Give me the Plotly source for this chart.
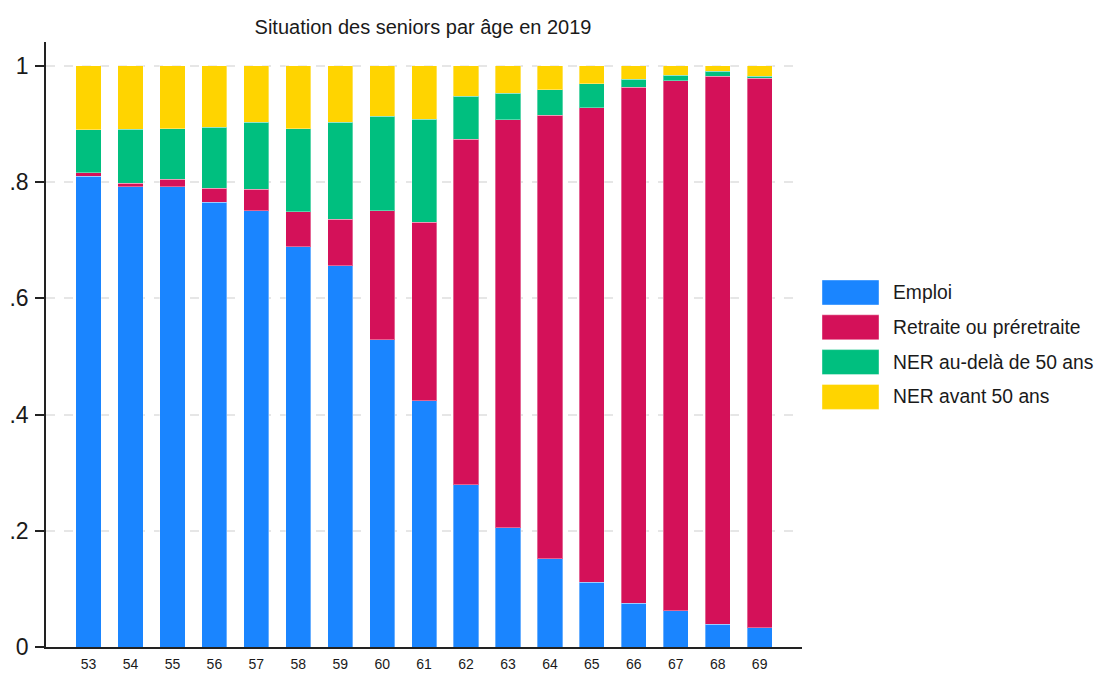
import plotly.graph_objects as go

ages = [53, 54, 55, 56, 57, 58, 59, 60, 61, 62, 63, 64, 65, 66, 67, 68, 69]

emploi = [0.810, 0.792, 0.792, 0.765, 0.751, 0.689, 0.656, 0.529, 0.424,
          0.279, 0.205, 0.152, 0.111, 0.075, 0.062, 0.039, 0.033]
retraite = [0.006, 0.006, 0.013, 0.024, 0.037, 0.060, 0.080, 0.222, 0.307,
            0.595, 0.702, 0.763, 0.817, 0.888, 0.912, 0.943, 0.946]
ner_apres50 = [0.074, 0.093, 0.087, 0.105, 0.115, 0.143, 0.167, 0.162, 0.177,
               0.074, 0.046, 0.044, 0.041, 0.014, 0.010, 0.009, 0.003]
ner_avant50 = [0.110, 0.109, 0.108, 0.106, 0.097, 0.108, 0.097, 0.087, 0.092,
               0.052, 0.047, 0.041, 0.031, 0.023, 0.016, 0.009, 0.018]

names = ["Emploi", "Retraite ou préretraite", "NER au-delà de 50 ans", "NER avant 50 ans"]
colors = ["#1a85ff", "#d41159", "#00bf7f", "#ffd400"]
series = [emploi, retraite, ner_apres50, ner_avant50]

y_ticks = [0, 0.2, 0.4, 0.6, 0.8, 1]
y_ticktext = ["0", ".2", ".4", ".6", ".8", "1"]

FONT = "Liberation Sans, Arial, sans-serif"

# page has an 8px body margin, so the figure sits 8px right/down in the window
W, H = 1095, 665
L, R, T, B = 38, 301, 34, 26
PW, PH = W - L - R, H - T - B


def px(sx):
    # screen x -> paper x
    return (sx - 8 - L) / PW


def py(sy):
    # screen y -> paper y
    return 1 - (sy - 8 - T) / PH


fig = go.Figure()
for name, col, vals in zip(names, colors, series):
    fig.add_trace(go.Bar(
        x=ages, y=vals, name=name,
        marker=dict(color=col, line=dict(color="rgba(255,255,255,0.35)", width=1)),
        width=0.6,
        showlegend=False,
    ))

# legend drawn as big swatches, like the original
for i, (name, col) in enumerate(zip(names, colors)):
    top = 280 + i * 34.8
    fig.add_shape(type="rect", xref="paper", yref="paper",
                  x0=px(822), x1=px(879), y0=py(top + 25), y1=py(top),
                  fillcolor=col, line=dict(color="rgba(255,255,255,0.4)", width=1))
    fig.add_annotation(xref="paper", yref="paper",
                       x=px(891), y=py(top + 12.5),
                       text=name, showarrow=False, xanchor="left", yanchor="middle",
                       font=dict(size=19.3, color="#1a1a1a", family=FONT))

fig.update_layout(
    barmode="stack",
    width=W, height=H,
    margin=dict(l=L, r=R, t=T, b=B),
    paper_bgcolor="white", plot_bgcolor="white",
    font=dict(family=FONT, color="#1a1a1a"),
    title=dict(text="Situation des seniors par âge en 2019", x=415 / W, xanchor="center",
               y=1 - 19 / H, yanchor="middle", font=dict(size=20, color="#1a1a1a")),
)
fig.update_xaxes(
    range=[51.985, 70.01], tickvals=ages, ticks="", showgrid=False,
    showline=True, linecolor="#222", linewidth=1.5,
    tickfont=dict(size=14), ticklabelstandoff=3, automargin=False,
)
fig.update_yaxes(
    range=[0, 1.041], tickvals=y_ticks, ticktext=y_ticktext,
    ticks="outside", ticklen=9, tickcolor="#222", tickwidth=1.5,
    showline=True, linecolor="#222", linewidth=1.5,
    showgrid=True, gridcolor="#e6e6e6", griddash="dash", gridwidth=1.5,
    zeroline=False, tickfont=dict(size=23), ticklabelstandoff=2, automargin=False,
)

fig.write_html("out.html")
